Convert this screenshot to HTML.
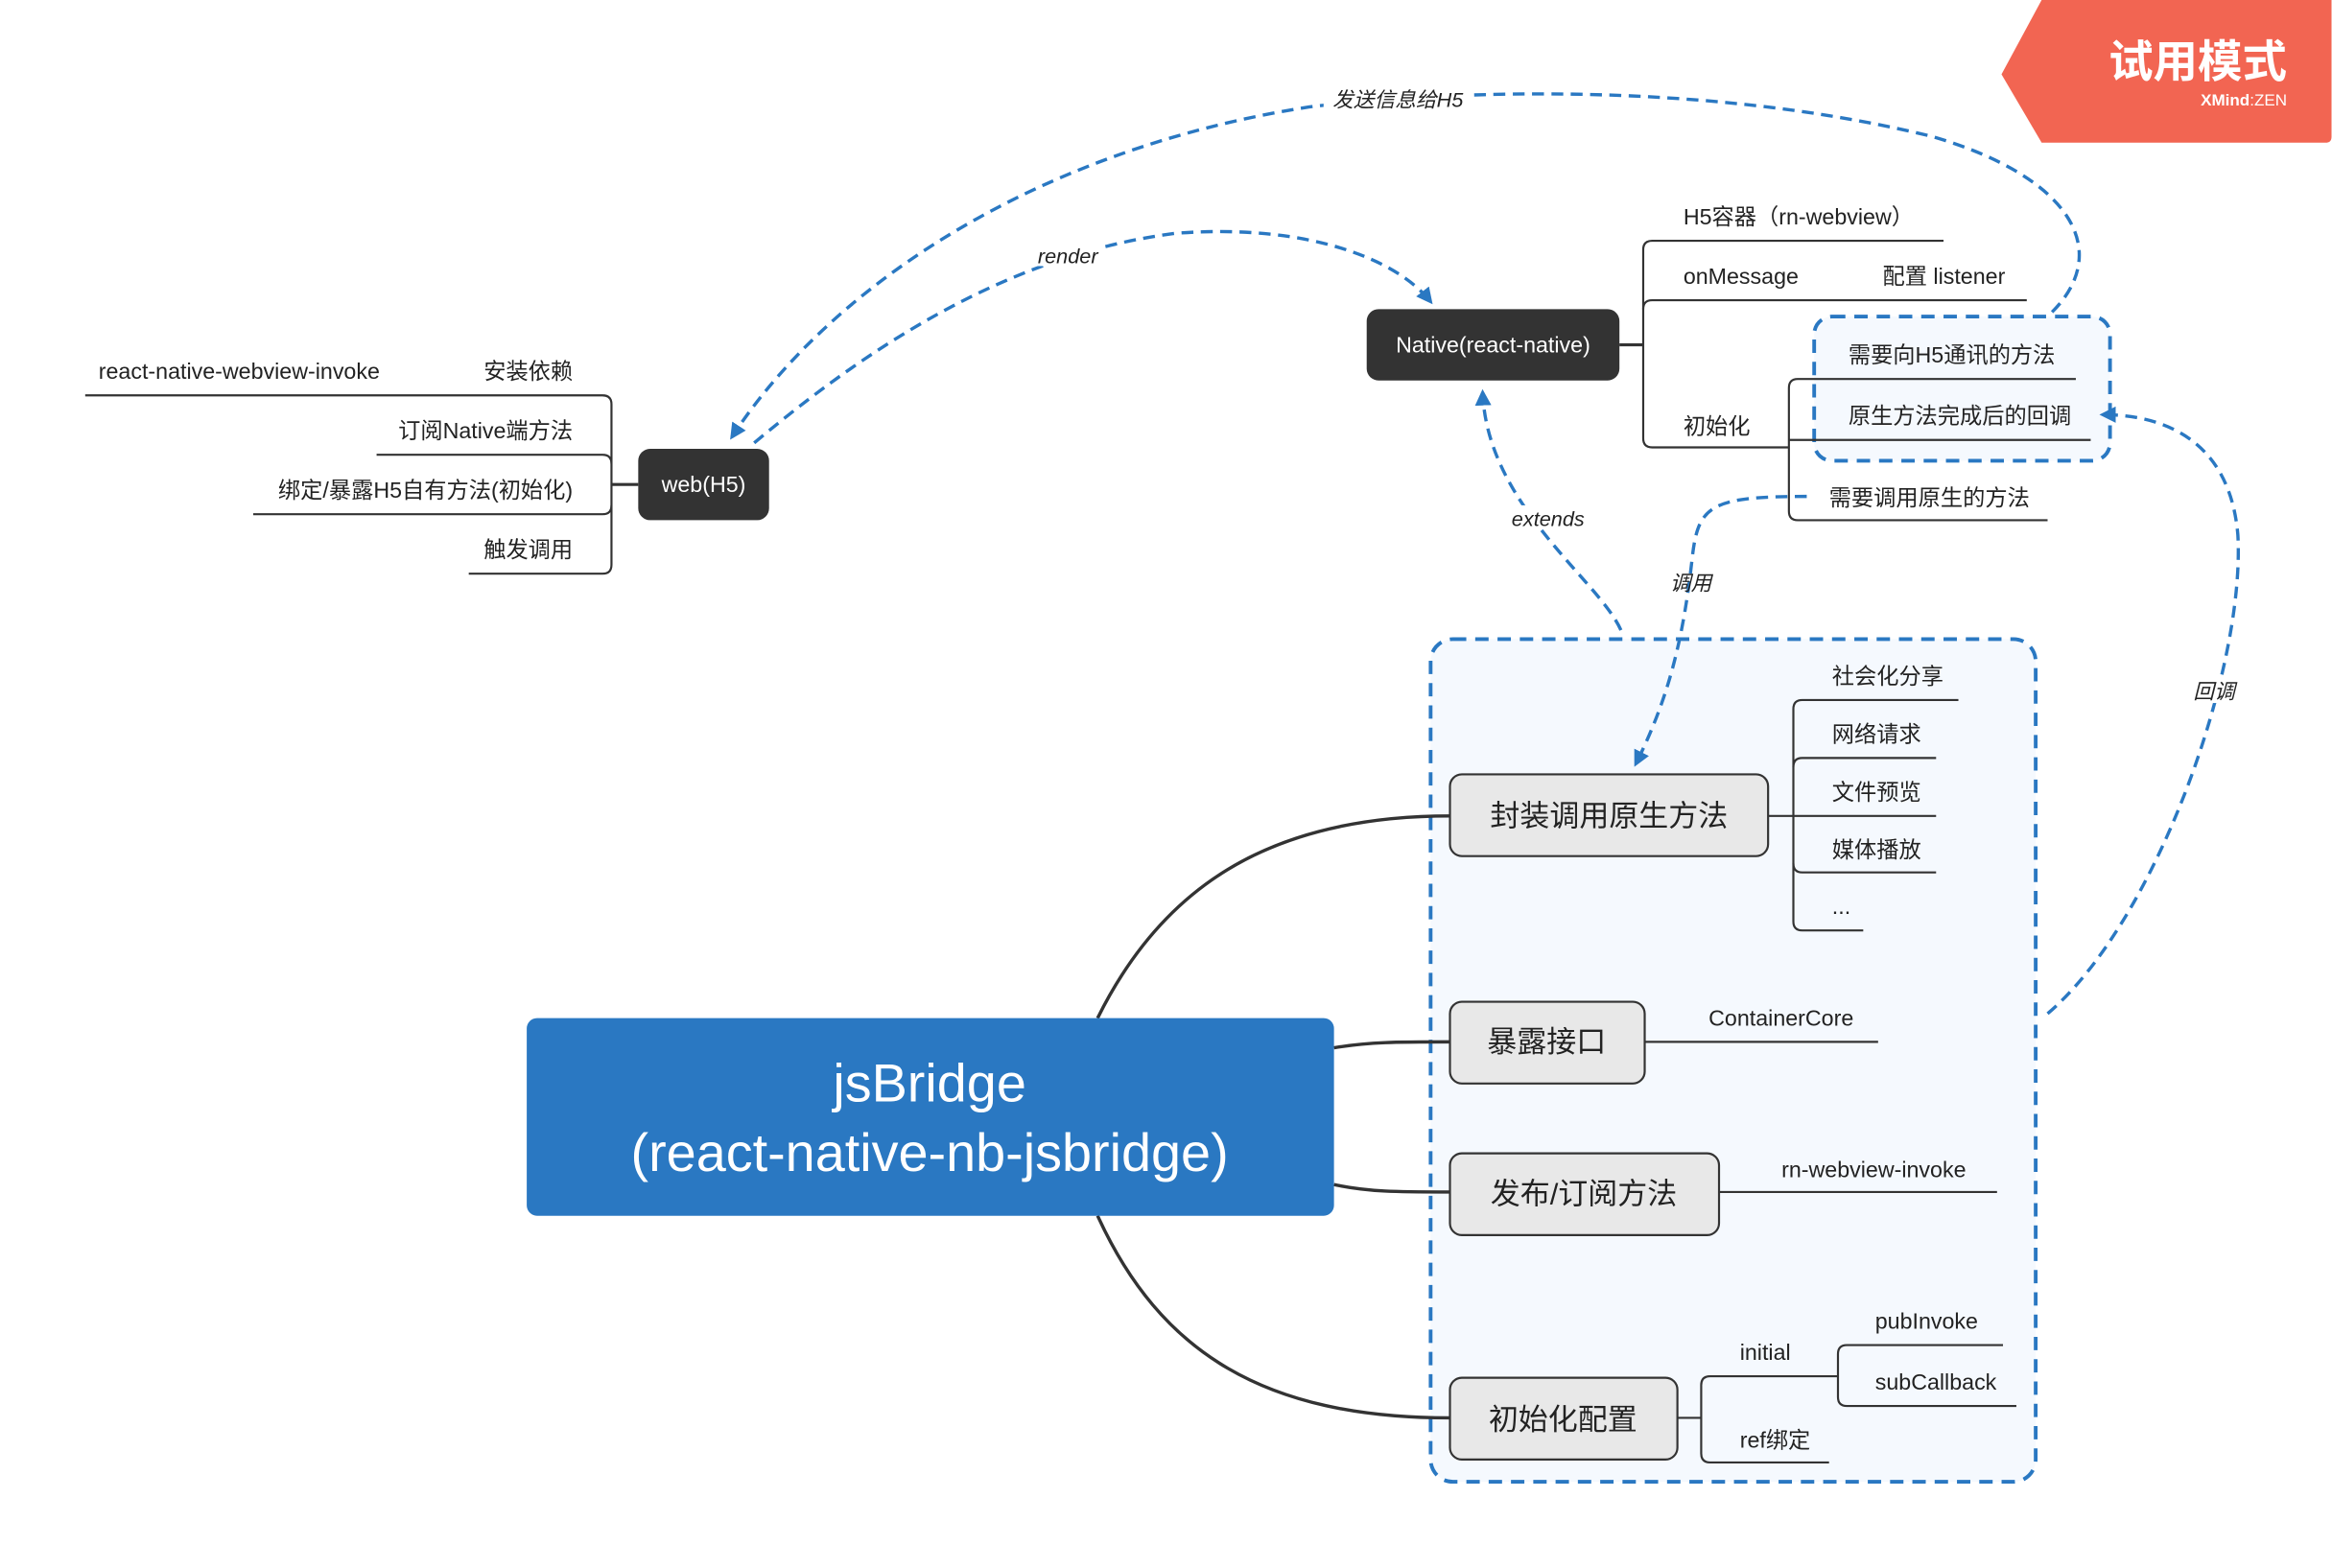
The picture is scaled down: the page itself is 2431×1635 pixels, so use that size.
<!DOCTYPE html>
<html><head><meta charset="utf-8"><style>
html,body{margin:0;padding:0;background:#fff;}
svg{display:block;}
text{font-family:"Liberation Sans","Noto Sans CJK SC",sans-serif;fill:#222;}
</style></head><body>
<svg width="2431" height="1635" viewBox="0 0 1568 1055" xmlns="http://www.w3.org/2000/svg">
<defs>
<marker id="ah" viewBox="0 0 10 10" refX="8" refY="5" markerWidth="5" markerHeight="5" orient="auto-start-reverse" markerUnits="strokeWidth">
<path d="M0,0 L10,5 L0,10 z" fill="#2a78c2"/></marker>
</defs>
<rect width="1568" height="1055" fill="#fff"/>
<!-- badge -->
<path d="M1373,0 L1568,0 L1568,92 Q1568,96 1564,96 L1373,96 L1346,50 Z" fill="#f26552"/>
<text x="1538" y="52" text-anchor="end" font-size="30" font-weight="bold" style="fill:#fff">试用模式</text>
<text x="1538" y="71" text-anchor="end" font-size="11" style="fill:#fff"><tspan font-weight="bold">XMind</tspan>:ZEN</text>

<!-- big dashed box -->
<rect x="962" y="430" width="407" height="567" rx="15" fill="#f5f9fe" stroke="#2a78c2" stroke-width="2.5" stroke-dasharray="9,6"/>
<!-- small dashed box -->
<rect x="1220" y="213" width="199" height="97" rx="12" fill="#f5f9fe" stroke="#2a78c2" stroke-width="2.5" stroke-dasharray="9,6"/>

<g fill="none" stroke="#333" stroke-width="1.4">
<!-- left branches of web -->
<path d="M57,266 H405 Q411,266 411,272 V380 Q411,386 405,386 H315"/>
<path d="M253,306 H405 Q411,306 411,312"/>
<path d="M170,346 H405 Q411,346 411,340"/>
<path d="M411,326 H429" stroke-width="2"/>
<!-- native branches -->
<path d="M1089,232 H1105" stroke-width="2"/>
<path d="M1307,162 H1111 Q1105,162 1105,168 V295 Q1105,301 1111,301 H1203"/>
<path d="M1363,202 H1111 Q1105,202 1105,208"/>
<path d="M1396,255 H1209 Q1203,255 1203,261 V344 Q1203,350 1209,350 H1377"/>
<path d="M1406,296 H1203"/>
<!-- central curves -->
<path d="M738,685 C780,600 850,549 975,549" stroke-width="2.2"/>
<path d="M897,705 C920,701 940,701 975,701" stroke-width="2.2"/>
<path d="M897,797 C920,802 940,802 975,802" stroke-width="2.2"/>
<path d="M738,818 C780,910 850,954 975,954" stroke-width="2.2"/>
<!-- 封装 children -->
<path d="M1189,549 H1206"/>
<path d="M1317,471 H1212 Q1206,471 1206,477 V620 Q1206,626 1212,626 H1253"/>
<path d="M1302,510 H1212 Q1206,510 1206,516"/>
<path d="M1302,549 H1206"/>
<path d="M1302,587 H1212 Q1206,587 1206,581"/>
<!-- 暴露 -->
<path d="M1106,701 H1263"/>
<!-- 发布 -->
<path d="M1156,802 H1343"/>
<!-- 初始化配置 -->
<path d="M1128,954 H1144"/>
<path d="M1236,926 H1150 Q1144,926 1144,932 V978 Q1144,984 1150,984 H1230"/>
<path d="M1347,905 H1242 Q1236,905 1236,911 V940 Q1236,946 1242,946 H1356"/>
</g>

<!-- nodes -->
<rect x="429" y="302" width="88" height="48" rx="8" fill="#333"/>
<text x="473" y="331" text-anchor="middle" font-size="15" style="fill:#fff">web(H5)</text>
<rect x="919" y="208" width="170" height="48" rx="8" fill="#333"/>
<text x="1004" y="237" text-anchor="middle" font-size="15" style="fill:#fff">Native(react-native)</text>

<rect x="354" y="685" width="543" height="133" rx="7" fill="#2a78c2"/>
<text x="625" y="741" text-anchor="middle" font-size="36" style="fill:#fff">jsBridge</text>
<text x="625" y="788" text-anchor="middle" font-size="36" style="fill:#fff">(react-native-nb-jsbridge)</text>

<g fill="#e8e8e8" stroke="#333" stroke-width="1.4">
<rect x="975" y="521" width="214" height="55" rx="8"/>
<rect x="975" y="674" width="131" height="55" rx="8"/>
<rect x="975" y="776" width="181" height="55" rx="8"/>
<rect x="975" y="927" width="153" height="55" rx="8"/>
</g>
<g font-size="20">
<text x="1082" y="556" text-anchor="middle">封装调用原生方法</text>
<text x="1040" y="708" text-anchor="middle">暴露接口</text>
<text x="1065" y="810" text-anchor="middle">发布/订阅方法</text>
<text x="1051" y="962" text-anchor="middle">初始化配置</text>
</g>

<!-- labels -->
<g font-size="15">
<text x="66" y="255">react-native-webview-invoke</text>
<text x="385" y="255" text-anchor="end">安装依赖</text>
<text x="385" y="295" text-anchor="end">订阅Native端方法</text>
<text x="385" y="335" text-anchor="end">绑定/暴露H5自有方法(初始化)</text>
<text x="385" y="375" text-anchor="end">触发调用</text>
<text x="1132" y="151">H5容器（rn-webview）</text>
<text x="1132" y="191">onMessage</text>
<text x="1266" y="191">配置 listener</text>
<text x="1132" y="292">初始化</text>
<text x="1243" y="244">需要向H5通讯的方法</text>
<text x="1243" y="285">原生方法完成后的回调</text>
<text x="1230" y="340">需要调用原生的方法</text>
<text x="1232" y="460">社会化分享</text>
<text x="1232" y="499">网络请求</text>
<text x="1232" y="538">文件预览</text>
<text x="1232" y="577">媒体播放</text>
<text x="1232" y="615">...</text>
<text x="1149" y="690">ContainerCore</text>
<text x="1198" y="792">rn-webview-invoke</text>
<text x="1170" y="915">initial</text>
<text x="1170" y="974">ref绑定</text>
<text x="1261" y="894">pubInvoke</text>
<text x="1261" y="935">subCallback</text>
</g>

<!-- dashed relationships -->
<g fill="none" stroke="#2a78c2" stroke-width="2.2" stroke-dasharray="8,5">
<path d="M1380,210 C1420,170 1395,120 1300,92 C1150,55 980,60 880,72 C700,100 560,190 492,294" marker-end="url(#ah)"/>
<path d="M507,298 C600,220 690,170 790,157 C880,150 940,175 962,203" marker-end="url(#ah)"/>
<path d="M1090,424 C1075,390 1000,340 997,264" marker-end="url(#ah)"/>
<path d="M1215,334 C1150,334 1142,340 1138,375 C1132,430 1122,470 1100,514" marker-end="url(#ah)"/>
<path d="M1377,682 C1450,620 1510,450 1505,360 C1500,300 1460,279 1414,279" marker-end="url(#ah)"/>
</g>
<g font-size="14" font-style="italic">
<rect x="890" y="58" width="98" height="18" fill="#fff"/>
<text x="940" y="72" text-anchor="middle">发送信息给H5</text>
<rect x="694" y="163" width="48" height="16" fill="#fff"/>
<text x="718" y="177" text-anchor="middle">render</text>
<rect x="1014" y="340" width="54" height="16" fill="#fff"/>
<text x="1041" y="354" text-anchor="middle">extends</text>
<rect x="1120" y="383" width="34" height="17" fill="#f5f9fe" opacity="0"/>
<text x="1137" y="397" text-anchor="middle">调用</text>
<rect x="1472" y="456" width="34" height="17" fill="#fff"/>
<text x="1489" y="470" text-anchor="middle">回调</text>
</g>
</svg>
</body></html>
